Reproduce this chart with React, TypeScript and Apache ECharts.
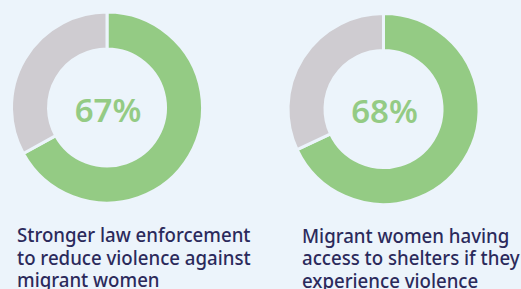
import React, { useEffect, useRef } from "react";
import * as echarts from "echarts";

const charts = ["law", "shelter"];
const greenValues = [67, 68];
const grayValues = [33, 32];
const percentLabels = ["67%", "68%"];
const captions = [
  "Stronger law enforcement\nto reduce violence against\nmigrant women",
  "Migrant women having\naccess to shelters if they\nexperience violence",
];

const BG = "#ecf4fb";
const GREEN = "#94cb84";
const GRAY = "#cfccd1";
const TEXT = "#2b2a5b";
const FONT = "'Noto Sans', 'Open Sans', sans-serif";

const centers = [
  [107, 107.5],
  [383.5, 109],
];
const captionPos = [
  [17, 222.8],
  [302, 223.5],
];

export default function App() {
  const ref = useRef<HTMLDivElement>(null);
  useEffect(() => {
    if (!ref.current) return;
    const chart = echarts.init(ref.current, null, { renderer: "svg" });
    const series = charts.map((name, i) => ({
      type: "pie",
      name,
      center: centers[i],
      radius: [58.5, 95.5],
      startAngle: 90,
      clockwise: true,
      silent: true,
      emphasis: { disabled: true },
      labelLine: { show: false },
      itemStyle: { borderColor: BG, borderWidth: 3 },
      data: [
        {
          value: greenValues[i],
          name: "yes",
          itemStyle: { color: GREEN },
          label: {
            show: true,
            position: "center",
            formatter: percentLabels[i],
            color: GREEN,
            fontSize: 33,
            fontWeight: 600,
            fontFamily: FONT,
            offset: [1, 1.5],
          },
        },
        {
          value: grayValues[i],
          name: "no",
          itemStyle: { color: GRAY },
          label: { show: false },
        },
      ],
    }));
    chart.setOption({
      animation: false,
      backgroundColor: BG,
      series,
      graphic: captions.map((t, i) => ({
        type: "text",
        x: captionPos[i][0],
        y: captionPos[i][1],
        scaleX: 0.91,
        style: {
          text: t,
          fill: TEXT,
          fontSize: 20.5,
          fontWeight: 500,
          fontFamily: FONT,
          lineHeight: 22.6,
          verticalAlign: "top",
        },
      })),
    });
    return () => chart.dispose();
  }, []);
  return (
    <div
      ref={ref}
      style={{ position: "absolute", left: 0, top: 0, width: 521, height: 289 }}
    />
  );
}
